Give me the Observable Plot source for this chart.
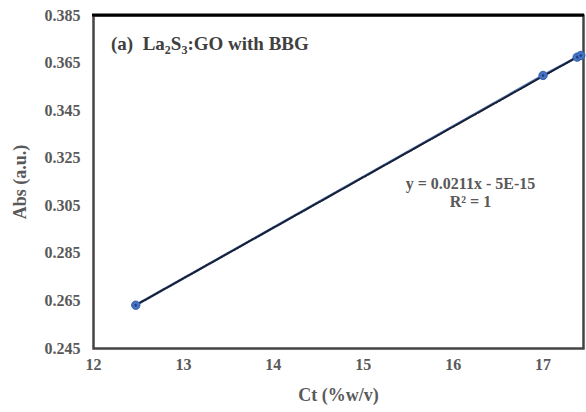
<!DOCTYPE html>
<html><head><meta charset="utf-8">
<script src="https://cdn.jsdelivr.net/npm/d3@7"></script>
<script src="https://cdn.jsdelivr.net/npm/@observablehq/plot@0.6"></script>
<style>
html,body{margin:0;padding:0;background:#fff;}
#chart svg{display:block;}
</style></head>
<body><div id="chart"></div>
<script>
const ct = [12.47, 17.0, 17.38, 17.42];
const abs = [0.2632, 0.3598, 0.3675, 0.3682];
const xTicks = [12, 13, 14, 15, 16, 17];
const yTicks = [0.245, 0.265, 0.285, 0.305, 0.325, 0.345, 0.365, 0.385];
const equationText = "y = 0.0211x - 5E-15\nR² = 1";

const data = ct.map((c, i) => ({ct: c, abs: abs[i]}));
const font = "'Liberation Serif', 'Times New Roman', serif";

const plot = Plot.plot({
  width: 586, height: 412,
  marginLeft: 93, marginRight: 3, marginTop: 15, marginBottom: 64,
  style: {fontFamily: font, fontSize: "16px", fontWeight: "bold", color: "#595959", background: "#fff"},
  x: {domain: [12, 17.45], ticks: xTicks, tickSize: 0, tickPadding: 10, tickFormat: d3.format("d"),
      label: "Ct (%w/v)", labelAnchor: "center", labelArrow: "none", labelOffset: 52},
  y: {domain: [0.245, 0.385], ticks: yTicks, tickSize: 0, tickPadding: 13, tickFormat: d3.format(".3f"),
      label: "Abs (a.u.)", labelAnchor: "center", labelArrow: "none", labelOffset: 80},
  marks: [
    Plot.frame({stroke: "#444", strokeWidth: 2.5}),
    Plot.line(data, {x: "ct", y: "abs", stroke: "#5b85cf", strokeWidth: 2.5}),
    Plot.linearRegressionY(data, {x: "ct", y: "abs", ci: 0, stroke: "#1a1f2e", strokeWidth: 2, strokeDasharray: "2,1.5"}),
    Plot.dot(data, {x: "ct", y: "abs", r: 4.2, fill: "#4472C4", stroke: "#3a62a8", strokeWidth: 1}),
    Plot.dot(data, {x: "ct", y: "abs", r: 1.2, fill: "#1f3d7a"}),
    Plot.text([equationText], {text: d => d, frameAnchor: "top-left", dx: 377, dy: 160, lineAnchor: "top",
      lineHeight: 1.15, fontSize: 16, fontWeight: "bold", fill: "#595959", textAnchor: "middle"})
  ]
});
document.getElementById("chart").appendChild(plot);

const svg = d3.select(plot);
svg.selectAll("[aria-label='x-axis label'] text, [aria-label='y-axis label'] text")
  .style("font-size", "18px").attr("fill", "#595959");
svg.selectAll("[aria-label='x-axis label'], [aria-label='y-axis label']")
  .style("font-size", "18px");
// thick top border
svg.append("line").attr("x1", 92).attr("x2", 584).attr("y1", 15).attr("y2", 15)
  .attr("stroke", "#000").attr("stroke-width", 3);
// panel title with subscripts
const t = svg.append("text").attr("x", 111).attr("y", 50).attr("text-anchor", "start")
  .attr("font-family", font).attr("font-size", 19).attr("font-weight", "bold").attr("fill", "#404040");
t.append("tspan").text("(a)  La");
t.append("tspan").attr("font-size", 12).attr("dy", 4).text("2");
t.append("tspan").attr("dy", -4).text("S");
t.append("tspan").attr("font-size", 12).attr("dy", 4).text("3");
t.append("tspan").attr("dy", -4).text(":GO with BBG");
</script></body></html>
